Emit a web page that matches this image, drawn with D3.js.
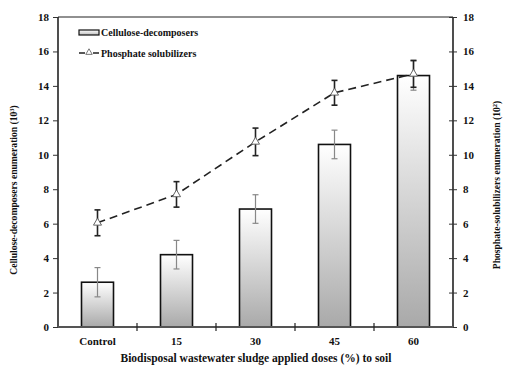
<!DOCTYPE html>
<html>
<head>
<meta charset="utf-8">
<script src="https://cdn.jsdelivr.net/npm/d3@7"></script>
<style>
  body { margin: 0; background: #fff; }
  text { font-family: "Liberation Serif", "Times New Roman", serif; font-weight: bold; fill: #111; }
</style>
</head>
<body>
<svg id="chart" width="506" height="365"></svg>
<script>
// Doses of sludge applied (%)
const categories = ["Control", "15", "30", "45", "60"];
// Cellulose-decomposers (10^3), bars with standard error
const celluloseValues = [2.6, 4.2, 6.85, 10.6, 14.6];
const celluloseErrors = [0.85, 0.83, 0.83, 0.83, 0.85];
// Phosphate solubilizers (10^2), dashed line with standard error
const phosphateValues = [6.05, 7.7, 10.75, 13.6, 14.7];
const phosphateErrors = [0.75, 0.74, 0.8, 0.72, 0.78];
const yTicks = [0, 2, 4, 6, 8, 10, 12, 14, 16, 18];

const svg = d3.select("#chart");
const m = { left: 58, right: 453, top: 17, bottom: 327 };

const x = d3.scaleBand().domain(categories).range([m.left, m.right]).paddingInner(0).paddingOuter(0);
const yL = d3.scaleLinear().domain([0, 18]).range([m.bottom, m.top]);
const yR = d3.scaleLinear().domain([0, 18]).range([m.bottom, m.top]);
const barW = 32;
const cx = d => x(d) + x.bandwidth() / 2;

// Bar fill: white at top fading to gray at the base
const defs = svg.append("defs");
const grad = defs.append("linearGradient").attr("id", "barGrad")
  .attr("x1", 0).attr("y1", 0).attr("x2", 0).attr("y2", 1);
grad.append("stop").attr("offset", "0%").attr("stop-color", "#ffffff");
grad.append("stop").attr("offset", "100%").attr("stop-color", "#a9a9a9");

const legGrad = defs.append("linearGradient").attr("id", "legGrad")
  .attr("x1", 0).attr("y1", 0).attr("x2", 0).attr("y2", 1);
legGrad.append("stop").attr("offset", "0%").attr("stop-color", "#ffffff");
legGrad.append("stop").attr("offset", "100%").attr("stop-color", "#bbbbbb");

// Bars
svg.append("g").selectAll("rect").data(categories).join("rect")
  .attr("x", d => cx(d) - barW / 2)
  .attr("y", (d, i) => yL(celluloseValues[i]))
  .attr("width", barW)
  .attr("height", (d, i) => yL(0) - yL(celluloseValues[i]))
  .attr("fill", "url(#barGrad)")
  .attr("stroke", "#111").attr("stroke-width", 1.6);

// Vertical error bars with caps
function errorBars(values, errors, scale, color, width) {
  const g = svg.append("g").attr("stroke", color).attr("stroke-width", width).attr("fill", "none");
  categories.forEach((c, i) => {
    const X = cx(c), hi = scale(values[i] + errors[i]), lo = scale(values[i] - errors[i]);
    g.append("line").attr("x1", X).attr("x2", X).attr("y1", hi).attr("y2", lo);
    g.append("line").attr("x1", X - 3).attr("x2", X + 3).attr("y1", hi).attr("y2", hi);
    g.append("line").attr("x1", X - 3).attr("x2", X + 3).attr("y1", lo).attr("y2", lo);
  });
}
errorBars(celluloseValues, celluloseErrors, yL, "#888", 1.2);

// Phosphate line
const line = d3.line().x((d, i) => cx(categories[i])).y(d => yR(d));
svg.append("path").datum(phosphateValues)
  .attr("d", line).attr("fill", "none")
  .attr("stroke", "#222").attr("stroke-width", 1.6).attr("stroke-dasharray", "8,5");

errorBars(phosphateValues, phosphateErrors, yR, "#222", 1.6);

const tri = d3.symbol().type(d3.symbolTriangle).size(28);
svg.append("g").selectAll("path").data(phosphateValues).join("path")
  .attr("d", tri)
  .attr("transform", (d, i) => `translate(${cx(categories[i])},${yR(d)})`)
  .attr("fill", "#fff").attr("stroke", "#555").attr("stroke-width", 0.9);

// Frame
svg.append("line").attr("x1", m.left).attr("x2", m.right).attr("y1", m.top).attr("y2", m.top)
  .attr("stroke", "#222").attr("stroke-width", 1.2);

// Axes
const axL = svg.append("g").attr("transform", `translate(${m.left},0)`)
  .call(d3.axisLeft(yL).tickValues(yTicks).tickSize(5).tickPadding(4));
const axR = svg.append("g").attr("transform", `translate(${m.right},0)`)
  .call(d3.axisRight(yR).tickValues(yTicks).tickSize(4).tickPadding(6));
axR.selectAll(".tick line").attr("x1", -4);
const axX = svg.append("g").attr("transform", `translate(0,${m.bottom})`)
  .call(d3.axisBottom(x).tickSize(0).tickPadding(10));

// Category separators on the x axis
svg.append("g").selectAll("line").data(categories.slice(1)).join("line")
  .attr("x1", d => x(d)).attr("x2", d => x(d))
  .attr("y1", m.bottom - 4).attr("y2", m.bottom + 4)
  .attr("stroke", "#222").attr("stroke-width", 1.2);

[axL, axR, axX].forEach(a => {
  a.select(".domain").attr("stroke", "#222").attr("stroke-width", 1.6);
  a.selectAll(".tick line").attr("stroke", "#333").attr("stroke-width", 1);
  a.selectAll(".tick text").style("font-family", "'Liberation Serif', serif")
    .style("font-weight", "bold").style("font-size", "11px").attr("fill", "#111");
});
axL.select(".domain").attr("d", `M0,${m.top}V${m.bottom}`);
axR.select(".domain").attr("d", `M0,${m.top}V${m.bottom}`);
axX.select(".domain").attr("d", `M${m.left},0H${m.right}`).attr("stroke", "#555").attr("stroke-width", 2.2);

// Axis titles
svg.append("text").attr("transform", `translate(17,190) rotate(-90)`)
  .attr("text-anchor", "middle").style("font-size", "9.6px")
  .html("Cellulose-decomposers enumeration (10<tspan baseline-shift='super' font-size='6.5px'>3</tspan>)");
svg.append("text").attr("transform", `translate(500,185) rotate(-90)`)
  .attr("text-anchor", "middle").style("font-size", "9.6px")
  .html("Phosphate-solubilizers enumeration (10<tspan baseline-shift='super' font-size='6.5px'>2</tspan>)");
svg.append("text").attr("x", 256).attr("y", 362)
  .attr("text-anchor", "middle").style("font-size", "11.5px")
  .text("Biodisposal wastewater sludge applied doses (%) to soil");

// Legend
const lg = svg.append("g");
lg.append("rect").attr("x", 79).attr("y", 30).attr("width", 20).attr("height", 5)
  .attr("fill", "url(#legGrad)").attr("stroke", "#111").attr("stroke-width", 1.2);
lg.append("text").attr("x", 101).attr("y", 36).style("font-size", "10px").text("Cellulose-decomposers");
lg.append("line").attr("x1", 79).attr("x2", 99).attr("y1", 53).attr("y2", 53)
  .attr("stroke", "#222").attr("stroke-width", 1.4).attr("stroke-dasharray", "6,3,0,5,6");
lg.append("path").attr("d", d3.symbol().type(d3.symbolTriangle).size(18))
  .attr("transform", "translate(89,52.5)").attr("fill", "#fff").attr("stroke", "#555").attr("stroke-width", 0.8);
lg.append("text").attr("x", 101).attr("y", 57).style("font-size", "10px").text("Phosphate solubilizers");
</script>
</body>
</html>
